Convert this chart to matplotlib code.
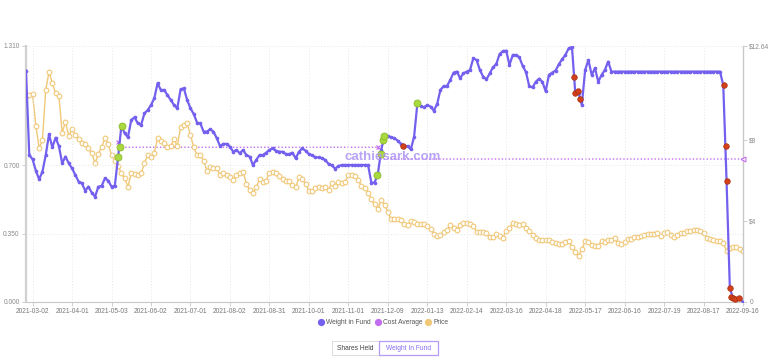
import matplotlib
matplotlib.use('Agg')
import matplotlib.pyplot as plt
from matplotlib.patches import Rectangle
from matplotlib.lines import Line2D

plt.rcParams['font.family'] = ['Liberation Sans', 'DejaVu Sans']

# ---------------- data ----------------
tick_labels = ['2021-03-02', '2021-04-01', '2021-05-03', '2021-06-02', '2021-07-01',
               '2021-08-02', '2021-08-31', '2021-10-01', '2021-11-01', '2021-12-09',
               '2022-01-13', '2022-02-14', '2022-03-16', '2022-04-18', '2022-05-17',
               '2022-06-16', '2022-07-19', '2022-08-17', '2022-09-16']
first_tick = 2
tick_step = 12

weight = [
    1.184, 0.752, 0.730, 0.672, 0.628, 0.667, 0.752, 0.858, 0.791, 0.841,
    0.798, 0.710, 0.744, 0.710, 0.684, 0.650, 0.616, 0.607, 0.570, 0.590,
    0.559, 0.539, 0.590, 0.594, 0.633, 0.621, 0.590, 0.595, 0.740, 0.901,
    0.863, 0.843, 0.931, 0.945, 0.914, 0.906, 0.965, 0.982, 1.008, 1.042,
    1.119, 1.085, 1.085, 1.059, 1.034, 1.008, 0.991, 1.088, 1.093, 1.034,
    0.991, 0.962, 0.918, 0.914, 0.872, 0.872, 0.884, 0.872, 0.838, 0.798,
    0.809, 0.809, 0.795, 0.769, 0.778, 0.761, 0.778, 0.752, 0.744, 0.701,
    0.727, 0.752, 0.752, 0.764, 0.778, 0.786, 0.774, 0.769, 0.769, 0.757,
    0.757, 0.764, 0.735, 0.769, 0.786, 0.774, 0.757, 0.751, 0.740, 0.740,
    0.735, 0.727, 0.706, 0.699, 0.682, 0.696, 0.701, 0.701, 0.701, 0.701,
    0.701, 0.701, 0.701, 0.701, 0.701, 0.611, 0.611, 0.658, 0.778, 0.849,
    0.849, 0.843, 0.838, 0.826, 0.809, 0.795, 0.798, 0.781, 0.846, 1.017,
    1.003, 0.996, 1.008, 1.000, 0.979, 1.013, 1.085, 1.105, 1.105, 1.136,
    1.174, 1.179, 1.145, 1.170, 1.179, 1.187, 1.247, 1.238, 1.187, 1.153,
    1.139, 1.170, 1.201, 1.218, 1.269, 1.284, 1.286, 1.213, 1.264, 1.264,
    1.252, 1.209, 1.177, 1.105, 1.098, 1.127, 1.143, 1.127, 1.078, 1.162,
    1.174, 1.184, 1.216, 1.242, 1.264, 1.298, 1.305, 1.071, 1.071, 1.008,
    1.187, 1.238, 1.162, 1.196, 1.127, 1.162, 1.187, 1.230, 1.179, 1.179,
    1.179, 1.179, 1.179, 1.179, 1.179, 1.179, 1.179, 1.179, 1.179, 1.179,
    1.179, 1.179, 1.179, 1.179, 1.179, 1.179, 1.179, 1.179, 1.179, 1.179,
    1.179, 1.179, 1.179, 1.179, 1.179, 1.179, 1.179, 1.179, 1.179, 1.179,
    1.179, 1.179, 1.110, 0.620, 0.070, 0.019, 0.015, 0.019, 0.000,
]

price = [
    10.17, 10.22, 10.27, 8.69, 7.59, 8.00, 10.47, 11.37, 10.80, 10.30,
    10.17, 8.36, 8.90, 8.20, 8.53, 8.25, 8.03, 7.87, 7.80, 7.59,
    7.34, 6.85, 7.31, 7.67, 8.08, 7.80, 7.26, 6.98, 6.71, 6.35,
    6.11, 5.69, 6.35, 6.32, 6.27, 6.35, 6.85, 7.26, 7.18, 7.37,
    8.08, 7.97, 7.83, 7.64, 7.70, 8.03, 7.70, 8.62, 8.74, 8.82,
    8.25, 7.64, 7.26, 7.26, 6.98, 6.48, 6.65, 6.60, 6.60, 6.27,
    6.39, 6.27, 6.19, 6.02, 6.27, 6.35, 6.44, 5.83, 5.53, 5.40,
    5.66, 6.06, 5.94, 5.99, 6.39, 6.44, 6.39, 6.22, 6.06, 5.99,
    5.97, 5.76, 5.66, 6.16, 6.07, 5.83, 5.50, 5.46, 5.63, 5.68,
    5.63, 5.69, 5.55, 5.86, 5.73, 5.94, 5.89, 5.94, 6.27, 6.27,
    6.22, 6.02, 5.73, 5.65, 5.40, 5.07, 4.82, 4.59, 5.05, 4.81,
    4.44, 4.08, 4.10, 4.08, 4.05, 3.87, 3.80, 4.00, 3.97, 3.85,
    3.85, 3.83, 3.77, 3.59, 3.36, 3.24, 3.32, 3.44, 3.55, 3.79,
    3.64, 3.57, 3.80, 3.90, 3.92, 3.85, 3.75, 3.47, 3.47, 3.47,
    3.39, 3.23, 3.23, 3.37, 3.26, 3.16, 3.52, 3.64, 3.88, 3.85,
    3.82, 3.87, 3.64, 3.49, 3.29, 3.16, 3.08, 3.06, 3.06, 3.04,
    2.96, 2.91, 2.86, 2.88, 2.95, 3.00, 2.73, 2.49, 2.29, 2.60,
    3.00, 2.96, 2.81, 2.75, 2.76, 3.03, 2.98, 3.06, 3.06, 3.14,
    2.90, 2.86, 2.98, 3.09, 3.11, 3.19, 3.23, 3.28, 3.29, 3.34,
    3.37, 3.36, 3.41, 3.28, 3.39, 3.44, 3.31, 3.23, 3.32, 3.41,
    3.39, 3.49, 3.51, 3.55, 3.54, 3.49, 3.41, 3.18, 3.11, 3.06,
    3.01, 3.03, 2.90, 2.53, 2.68, 2.73, 2.73, 2.60, 2.53,
]

buy_idx = [28.06, 28.57, 29.28, 106.8, 107.8, 108.4, 108.9, 118.75]
buy_w = [0.740, 0.791, 0.901, 0.650, 0.757, 0.829, 0.851, 1.020]
sell_idx = [114.7, 166.6, 166.97, 167.7, 168.4, 212.2, 212.7, 213.2, 214.0,
            214.5, 215.0, 215.5, 216.8]
sell_w = [0.798, 1.150, 1.068, 1.080, 1.037, 1.110, 0.798, 0.621, 0.070,
          0.027, 0.019, 0.015, 0.019]
cost_idx = [28, 29, 107, 108, 218]
cost_val = [7.92, 7.64, 7.64, 7.06, 7.06]

w_max = 1.31
p_max = 12.64
left_ticks = [0.0, 0.35, 0.70, 1.31]
right_ticks = [0, 4, 8, 12.64]
right_labels = ['0', '$4', '$8', '$12.64']

# ---------------- colours ----------------
C_W = '#7360ee'
C_COST = '#c36cf0'
C_P = '#f0c878'
C_BUY = '#a9d940'
C_SELL = '#d2401c'
C_TXT = '#8a8a8a'

# ---------------- figure ----------------
fig = plt.figure(figsize=(7.73, 3.62), dpi=100)
ax_w = fig.add_axes([26 / 773, 60 / 362, 717 / 773, 256 / 362])
ax_p = ax_w.twinx()
ax_w.set_zorder(ax_p.get_zorder() + 1)
ax_w.patch.set_visible(False)

xs = list(range(len(weight)))
n = len(weight)
tick_pos = [first_tick + tick_step * k for k in range(len(tick_labels))]

# price
ax_p.plot(xs, price, color=C_P, lw=1.0, marker='o', ms=3.4, mfc='white',
          mec=C_P, mew=0.8, zorder=2)
# cost average
ax_p.plot(cost_idx, cost_val, color=C_COST, lw=1.0, ls=(0, (1, 1.5)), zorder=1)
ax_p.plot([cost_idx[0]], [cost_val[0]], marker='x', ms=3.5, color=C_COST,
          mew=0.8, ls='none', zorder=3)
ax_p.plot([cost_idx[2]], [cost_val[2]], marker='x', ms=3.0, color=C_COST,
          mew=0.8, ls='none', zorder=3)
ax_p.plot([cost_idx[-1]], [cost_val[-1]], marker='<', ms=3.5, mfc='white',
          mec=C_COST, mew=0.8, ls='none', zorder=3, clip_on=False)

# weight
ax_w.plot(xs, weight, color=C_W, lw=1.6, marker='o', ms=1.6, mfc=C_W,
          mec=C_W, zorder=3, solid_joinstyle='round')
ax_w.plot(buy_idx, buy_w, ls='none', marker='o', ms=5.0, mfc=C_BUY,
          mec='#8dbb2a', mew=0.6, zorder=5)
ax_w.plot(sell_idx, sell_w, ls='none', marker='o', ms=4.0, mfc=C_SELL,
          mec='#a8300f', mew=0.5, zorder=5)

ax_w.set_xlim(0, n - 1)
ax_w.set_ylim(0, w_max)
ax_p.set_ylim(0, p_max)

# grids
for t in tick_pos:
    ax_w.axvline(t, color='#e6e6e6', lw=0.7, ls=(0, (1, 2)), zorder=0)
for t in left_ticks[1:]:
    ax_w.axhline(t, color='#e6e6e6', lw=0.7, ls=(0, (1, 2)), zorder=0)

# ticks
ax_w.set_xticks(tick_pos)
ax_w.set_xticklabels(tick_labels)
ax_w.set_yticks(left_ticks)
ax_w.set_yticklabels(['%.3f' % v for v in left_ticks])
ax_p.set_yticks(right_ticks)
ax_p.set_yticklabels(right_labels)

for a in (ax_w, ax_p):
    for s in a.spines.values():
        s.set_visible(False)
ax_w.spines['left'].set_visible(True)
ax_w.spines['left'].set_color('#d0d0d0')
ax_w.spines['left'].set_linewidth(1.6)
ax_w.spines['bottom'].set_visible(True)
ax_w.spines['bottom'].set_color('#c8c8c8')
ax_w.spines['bottom'].set_linewidth(0.8)
ax_p.spines['right'].set_visible(True)
ax_p.spines['right'].set_color('#c8c8c8')
ax_p.spines['right'].set_linewidth(1.0)

ax_w.tick_params(axis='x', length=3, width=0.6, color='#c8c8c8', labelsize=4.8,
                 labelcolor='#777777', pad=1.5)
ax_w.tick_params(axis='y', length=3, width=0.6, color='#c8c8c8', labelsize=4.8,
                 labelcolor=C_TXT, pad=1.5)
ax_p.tick_params(axis='y', length=3, width=0.6, color='#c8c8c8', labelsize=4.8,
                 labelcolor=C_TXT, pad=1.5)

# watermark
fig.text(393 / 773, 1 - 157 / 362, 'cathiesark.com', ha='center', va='center',
         fontsize=9.5, fontweight='bold', color='#ad93f5', alpha=0.85, zorder=10)

# legend
leg_items = [('Weight in Fund', C_W, 321, 326), ('Cost Average', C_COST, 377.7, 382.7),
             ('Price', C_P, 428, 433.3)]
ly = 1 - 322.3 / 362
for label, col, cx, tx in leg_items:
    fig.add_artist(Line2D([cx / 773], [ly], marker='o', ms=4.2, color=col,
                          ls='none', transform=fig.transFigure))
    fig.text(tx / 773, ly, label, ha='left', va='center', fontsize=4.8,
             color='#555555')

# buttons
b_y0, b_y1 = 1 - 355 / 362, 1 - 341 / 362
fig.add_artist(Rectangle((332 / 773, b_y0), 47 / 773, b_y1 - b_y0,
                         transform=fig.transFigure, fc='white', ec='#dddddd', lw=0.7))
fig.add_artist(Rectangle((379 / 773, b_y0), 59 / 773, b_y1 - b_y0,
                         transform=fig.transFigure, fc='white', ec='#b39bf7', lw=0.9))
fig.text(355.5 / 773, (b_y0 + b_y1) / 2, 'Shares Held', ha='center', va='center',
         fontsize=4.8, color='#444444')
fig.text(408.5 / 773, (b_y0 + b_y1) / 2, 'Weight In Fund', ha='center', va='center',
         fontsize=4.8, color='#8a6cf0')

fig.savefig('out.png', dpi=100)
